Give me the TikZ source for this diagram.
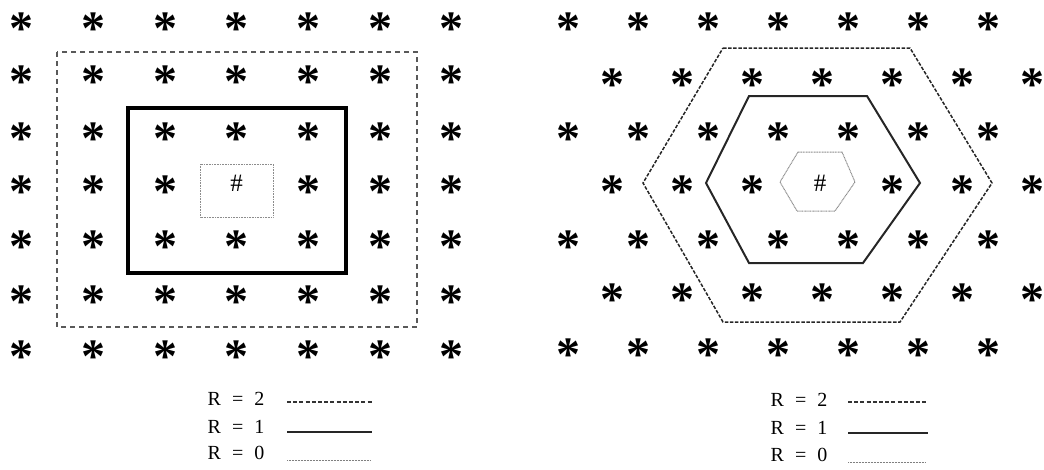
\documentclass[tikz,border=0pt]{standalone}
\usepackage{fontspec}
\setmainfont{Liberation Serif}
\begin{document}
\begin{tikzpicture}[x=1pt,y=-1pt,
  star/.style={inner sep=0pt,font=\fontsize{48}{48}\selectfont\bfseries,yshift=-7pt},
  hashnode/.style={inner sep=0pt,font=\fontsize{25}{25}\selectfont},
  legtext/.style={inner sep=0pt,font=\fontsize{20}{20}\selectfont},
  rtwo/.style={line width=1.5pt,black!85,dash pattern=on 3.5pt off 1.6pt},
  rone/.style={line width=2pt,black!85},
  rzero/.style={line width=1pt,black!45,dash pattern=on 1pt off 0.6pt},
  rtwoL/.style={line width=1.2pt,black!65,dash pattern=on 5pt off 4pt},
  roneL/.style={line width=4pt,black},
  legtwo/.style={line width=1.5pt,black!80,dash pattern=on 4pt off 2.2pt},
  legone/.style={line width=2pt,black!85},
  legzero/.style={line width=1pt,black!50,dash pattern=on 1pt off 0.5pt}
]
\useasboundingbox (0,0) rectangle (1044,469);
% ---------- left square lattice ----------
\foreach \r/\yy in {0/21.7,1/75,2/131.5,3/185,4/240,5/295,6/350}{
  \foreach \c in {0,...,6}{
    \ifnum\r=3 \ifnum\c=3 \else
      \node[star] (l-\r-\c) at ({21.7+71.7*\c},\yy) {*};
    \fi\else
      \node[star] (l-\r-\c) at ({21.7+71.7*\c},\yy) {*};
    \fi
  }
}
\node[hashnode] (lhash) at (236.7,183) {\#};
\draw[rtwoL] (57,52) rectangle (417,327);
\draw[roneL] (128,108) rectangle (346,273);
\draw[rzero] (200.7,164) rectangle (273,217);
% ---------- right hexagonal lattice ----------
\foreach \r/\yy in {0/22,2/132,4/240,6/348}{
  \foreach \c in {0,...,6}{
    \node[star] (r-\r-\c) at ({568+70*\c},\yy) {*};
  }
}
\foreach \r/\yy in {1/78,3/185,5/293}{
  \foreach \c in {0,...,6}{
    \ifnum\r=3 \ifnum\c=3 \else
      \node[star] (r-\r-\c) at ({612+70*\c},\yy) {*};
    \fi\else
      \node[star] (r-\r-\c) at ({612+70*\c},\yy) {*};
    \fi
  }
}
\node[hashnode] (rhash) at (820,183) {\#};
\draw[rtwo] (723,48) -- (910,48) -- (992,183) -- (900,322) -- (723,322) -- (643,183) -- cycle;
\draw[rone] (749,96) -- (867,96) -- (920,183) -- (863,263) -- (749,263) -- (706,183) -- cycle;
\draw[rzero] (798,152) -- (842,152) -- (855,182) -- (835,211) -- (797,211) -- (780,182) -- cycle;
% ---------- legends ----------
\node[legtext] (lt2) at (236,399) {R\hspace{0.55em}=\hspace{0.55em}2};
\node[legtext] (lt1) at (236,427) {R\hspace{0.55em}=\hspace{0.55em}1};
\node[legtext] (lt0) at (236,453) {R\hspace{0.55em}=\hspace{0.55em}0};
\coordinate (la2) at (287,402); \coordinate (lb2) at (372,402);
\coordinate (la1) at (287,432); \coordinate (lb1) at (372,432);
\coordinate (la0) at (287,460); \coordinate (lb0) at (370,460);
\draw[legtwo] (la2) -- (lb2);
\draw[legone] (la1) -- (lb1);
\draw[legzero] (la0) -- (lb0);
\node[legtext] (rt2) at (799,400) {R\hspace{0.55em}=\hspace{0.55em}2};
\node[legtext] (rt1) at (799,428) {R\hspace{0.55em}=\hspace{0.55em}1};
\node[legtext] (rt0) at (799,455) {R\hspace{0.55em}=\hspace{0.55em}0};
\coordinate (ra2) at (848,402); \coordinate (rb2) at (928,402);
\coordinate (ra1) at (848,433); \coordinate (rb1) at (928,433);
\coordinate (ra0) at (848,462); \coordinate (rb0) at (926,462);
\draw[legtwo] (ra2) -- (rb2);
\draw[legone] (ra1) -- (rb1);
\draw[legzero] (ra0) -- (rb0);
\end{tikzpicture}
\end{document}
